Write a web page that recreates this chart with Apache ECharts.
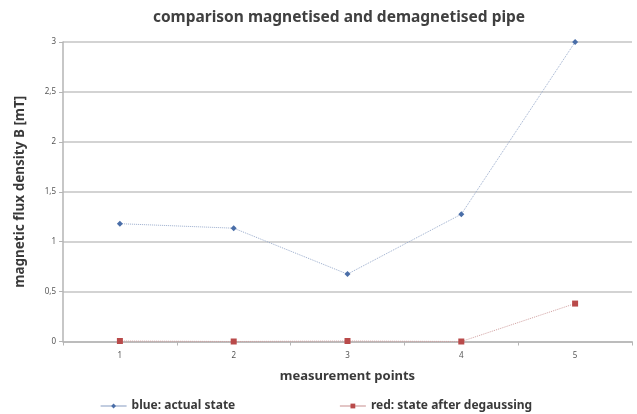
<!DOCTYPE html>
<html><head><meta charset="utf-8">
<script src="https://cdn.jsdelivr.net/npm/echarts@6/dist/echarts.min.js"></script>
<style>html,body{margin:0;padding:0;background:#fff}#c{width:637px;height:414px}</style>
</head><body><div id="c"></div>
<script>
const categories = ['1', '2', '3', '4', '5'];
const blueValues = [1.18, 1.135, 0.675, 1.275, 3.0];
const redValues = [0.005, 0.0, 0.005, 0.0, 0.38];
const yTicks = [0, 0.5, 1, 1.5, 2, 2.5, 3];

const chart = echarts.init(document.getElementById('c'));
const font = '"Noto Sans", "Open Sans", sans-serif';
chart.setOption({
  animation: false,
  textStyle: { fontFamily: font },
  title: {
    text: 'comparison magnetised and demagnetised pipe',
    left: 334, top: 5, textAlign: 'center',
    textStyle: { fontSize: 15.5, fontWeight: 'bold', color: '#404040', fontFamily: font }
  },
  grid: { left: 63, right: 5, top: 42, bottom: 72.5, containLabel: false },
  legend: {
    left: 95, top: 395, itemWidth: 26, itemHeight: 6, itemGap: 104,
    lineStyle: { type: 'solid', width: 1.2 },
    textStyle: { fontSize: 12, fontWeight: 'bold', color: '#3a3a3a', fontFamily: font },
    data: ['blue: actual state', 'red: state after degaussing']
  },
  xAxis: {
    type: 'category', data: categories, boundaryGap: true,
    name: 'measurement points', nameLocation: 'middle', nameGap: 28,
    nameTextStyle: { fontSize: 13, fontWeight: 'bold', color: '#3a3a3a', fontFamily: font },
    axisLine: { lineStyle: { color: '#b5b5b5', width: 1.5 } },
    axisTick: { show: true, length: 4, lineStyle: { color: '#b5b5b5' } },
    axisLabel: { fontSize: 8, color: '#555', margin: 10 }
  },
  yAxis: {
    type: 'value', min: 0, max: 3, interval: 0.5,
    name: 'magnetic flux density B [mT]', nameLocation: 'middle', nameGap: 36,
    nameTextStyle: { fontSize: 13.5, fontWeight: 'bold', color: '#3a3a3a', fontFamily: font },
    axisLine: { show: true, lineStyle: { color: '#b5b5b5', width: 1.5 } },
    axisTick: { show: true, length: 4, inside: false, lineStyle: { color: '#b5b5b5' } },
    splitLine: { lineStyle: { color: '#c4c4c4', width: 1.5 } },
    axisLabel: {
      fontSize: 8, color: '#555', margin: 7,
      formatter: v => (yTicks.indexOf(v) >= 0 ? String(v).replace('.', ',') : '')
    }
  },
  series: [
    {
      name: 'blue: actual state', type: 'line', data: blueValues,
      symbol: 'diamond', symbolSize: 6,
      lineStyle: { color: '#9aaccc', width: 1, type: 'dotted' },
      itemStyle: { color: '#4a6ea8' }
    },
    {
      name: 'red: state after degaussing', type: 'line', data: redValues,
      symbol: 'rect', symbolSize: 6,
      lineStyle: { color: '#d0a0a0', width: 1, type: 'dotted' },
      itemStyle: { color: '#b94a4a' }
    }
  ]
});
</script></body></html>
